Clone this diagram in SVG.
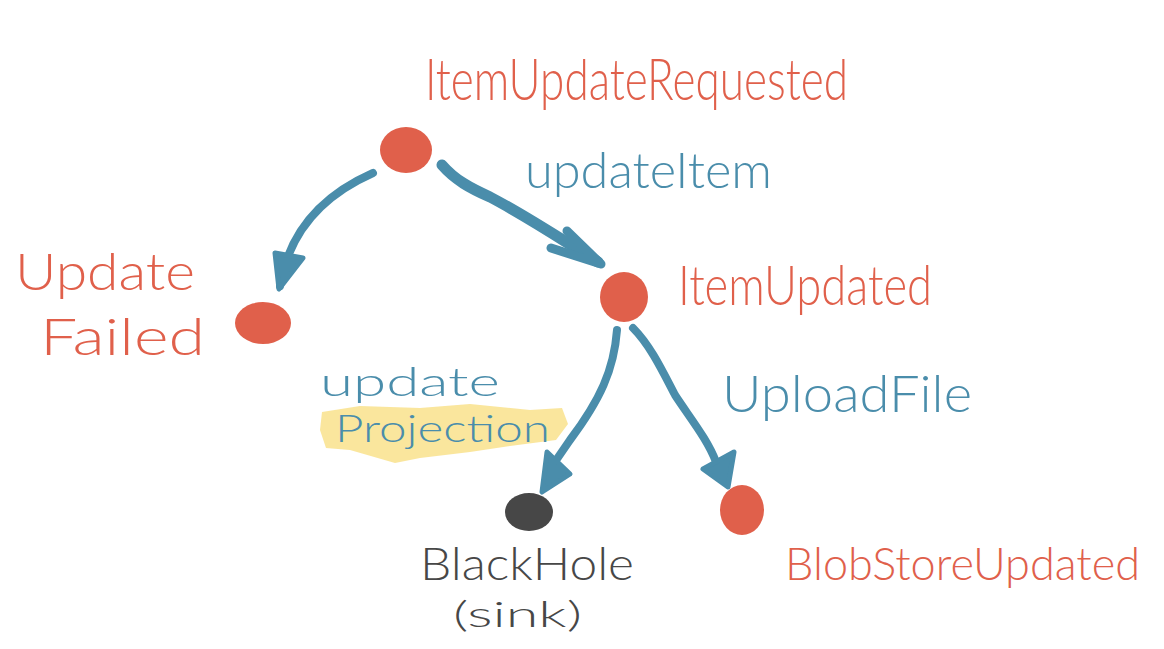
<svg xmlns="http://www.w3.org/2000/svg" width="1164" height="649" viewBox="0 0 1164 649">
<style>
.red{fill:#E0604B}
.blue{fill:#4A8DAB}
.gray{fill:#474747}
.t{font-family:Lato,"Liberation Sans",sans-serif;font-weight:300}
.conn{fill:none;stroke:#4A8DAB;stroke-linecap:round;stroke-linejoin:round}
.head{fill:#4A8DAB;stroke:#4A8DAB;stroke-width:5;stroke-linejoin:round}
</style>
<rect width="1164" height="649" fill="#ffffff"/>
<polygon points="322,412 360,406 420,408 470,404 530,410 562,408 568,424 556,440 510,446 470,452 420,458 395,463 350,450 326,448 320,430" fill="#F6CD3C" opacity="0.5"/>
<g id="connectors">
<path class="conn" stroke-width="8" d="M373,173 C330,192 290,225 280,286"/>
<polygon class="head" points="275,253 303,258 279,289"/>
<path class="conn" stroke-width="11" d="M442,165 C455,180 470,188 490,197 C530,218 570,245 598,262"/>
<polyline class="conn" stroke-width="9" points="567,231 601,264 551,248"/>
<path class="conn" stroke-width="8" d="M617,330 C614,370 600,400 570,440 L548,472"/>
<polygon class="head" points="547,452 570,474 542,492"/>
<path class="conn" stroke-width="8" d="M633,328 C650,345 662,370 675,395 C690,418 708,440 716,462"/>
<polygon class="head" points="703,469 734,452 728,487"/>
</g>
<g id="node-item-update-requested">
<ellipse class="red" cx="406" cy="150" rx="26" ry="23"/>
<text class="t red" x="425" y="100" font-size="58" textLength="423" lengthAdjust="spacingAndGlyphs">ItemUpdateRequested</text>
</g>
<g id="node-update-failed">
<ellipse class="red" cx="263" cy="323" rx="28" ry="21"/>
<text class="t red" x="15" y="290" font-size="52" textLength="180" lengthAdjust="spacingAndGlyphs">Update</text>
<text class="t red" x="40" y="355" font-size="52" textLength="165" lengthAdjust="spacingAndGlyphs">Failed</text>
</g>
<g id="node-item-updated">
<ellipse class="red" cx="624" cy="297" rx="24" ry="25"/>
<text class="t red" x="678" y="305" font-size="56" textLength="254" lengthAdjust="spacingAndGlyphs">ItemUpdated</text>
</g>
<g id="node-black-hole">
<ellipse class="gray" cx="529" cy="512" rx="24" ry="19"/>
<text class="t gray" x="420" y="580" font-size="46" textLength="214" lengthAdjust="spacingAndGlyphs">BlackHole</text>
<text class="t gray" x="453" y="627" font-size="36" textLength="129" lengthAdjust="spacingAndGlyphs">(sink)</text>
</g>
<g id="node-blobstore-updated">
<ellipse class="red" cx="742" cy="510" rx="22" ry="25"/>
<text class="t red" x="785" y="580" font-size="46" textLength="355" lengthAdjust="spacingAndGlyphs">BlobStoreUpdated</text>
</g>
<g id="labels">
<text class="t blue" x="525" y="188" font-size="50" textLength="247" lengthAdjust="spacingAndGlyphs">updateItem</text>
<text class="t blue" x="320" y="396" font-size="40" textLength="180" lengthAdjust="spacingAndGlyphs">update</text>
<text class="t blue" x="335" y="442" font-size="38" textLength="215" lengthAdjust="spacingAndGlyphs">Projection</text>
<text class="t blue" x="722" y="412" font-size="52" textLength="250" lengthAdjust="spacingAndGlyphs">UploadFile</text>
</g>
</svg>
